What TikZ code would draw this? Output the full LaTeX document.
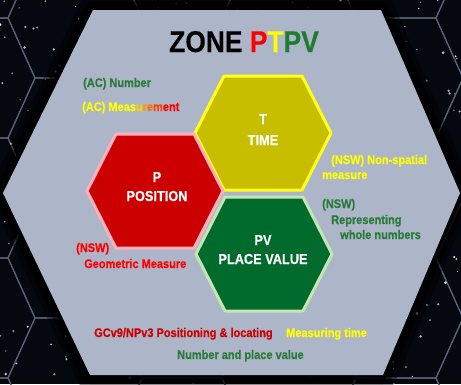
\documentclass[tikz,border=0pt]{standalone}
\usepackage{fontspec}
\setmainfont{Liberation Sans}
\newfontfamily\nar{Liberation Sans}[FakeStretch=0.88, BoldFeatures={FakeBold=0.4}]
\definecolor{bgdark}{HTML}{05080F}
\definecolor{gridc}{HTML}{5A6275}
\definecolor{hexgrey}{HTML}{ADB6C9}
\definecolor{tfill}{HTML}{C8BE00}
\definecolor{tline}{HTML}{FFFF1A}
\definecolor{pfill}{HTML}{CC0000}
\definecolor{pline}{HTML}{FFB0BC}
\definecolor{gfill}{HTML}{006B2C}
\definecolor{gline}{HTML}{C4E6B2}
\definecolor{txtgreen}{HTML}{2A7A3A}
\definecolor{titlegreen}{HTML}{1E7B30}
\definecolor{txtyellow}{HTML}{FFFF00}
\definecolor{txtred}{HTML}{FF0000}
\definecolor{darkred}{HTML}{CC0000}
\definecolor{orA}{HTML}{FFD000}
\definecolor{orB}{HTML}{FF9A00}
\definecolor{orC}{HTML}{FF7000}
\definecolor{orD}{HTML}{FF4000}
\newcommand\myhex[2]{({#1-39},{#2-57}) -- ({#1+39},{#2-57}) -- ({#1+68},{#2}) -- ({#1+39},{#2+57}) -- ({#1-39},{#2+57}) -- ({#1-68},{#2}) -- cycle}
\newcommand\bighex{(93,10) -- (381,10) -- (460,193) -- (383,375) -- (90,375) -- (3,193) -- cycle}
\tikzset{
  gridline/.style={draw=gridc, line width=1.1pt},
  lbl/.style={font=\nar\bfseries\fontsize{12.5}{14}\selectfont, inner sep=0pt, anchor=base west},
  hexlbl/.style={font=\nar\bfseries\fontsize{14.5}{16}\selectfont, inner sep=0pt, anchor=base, text=white},
  titlelbl/.style={font=\nar\bfseries\fontsize{30}{32}\selectfont, inner sep=0pt, anchor=base}
}
\begin{document}
\begin{tikzpicture}[x=1pt,y=-1pt, line join=round]
\useasboundingbox (0,0) rectangle (461,384);
\fill[bgdark] (0,0) rectangle (461,384);
% honeycomb grid
\begin{scope}
\clip (0,0) rectangle (461,384);
\foreach \n in {-1,...,2}{
  \foreach \k in {-1,...,3}{
    \draw[gridline] ({142+214*\n},{18+120*\k}) -- ++(80,0) -- ++(27,60) -- ++(-27,60) -- ++(-80,0) -- ++(-27,-60) -- cycle;
    \draw[gridline] ({35+214*\n},{78+120*\k}) -- ++(80,0) -- ++(27,60) -- ++(-27,60) -- ++(-80,0) -- ++(-27,-60) -- cycle;
  }
}
% stars
\pgfmathsetseed{11}
\foreach \i in {1,...,320}{
  \pgfmathsetmacro\sx{rnd*461}
  \pgfmathsetmacro\sy{rnd*384}
  \pgfmathsetmacro\sr{0.6+rnd*0.9}
  \pgfmathsetmacro\so{0.45+rnd*0.55}
  \fill[white, opacity=\so] (\sx,\sy) circle (\sr);
}
\end{scope}
% shadow of big hexagon
\draw[black, opacity=0.4, line width=28pt] \bighex;
\draw[black, opacity=0.5, line width=18pt] \bighex;
\draw[black, opacity=0.7, line width=9pt] \bighex;
\fill[hexgrey] \bighex;
% three hexagons
\filldraw[fill=tfill, draw=tline, line width=3pt] \myhex{263}{133};
\filldraw[fill=pfill, draw=pline, line width=3pt] \myhex{155}{191};
\filldraw[fill=gfill, draw=gline, line width=3pt] \myhex{264}{254};
% title
\node[titlelbl] (title) at (244,52) {\textcolor{black}{ZONE} \textcolor{txtred}{P}\textcolor{txtyellow}{T}\textcolor{titlegreen}{PV}};
% hex labels
\node[hexlbl] (tA) at (263,124) {T};
\node[hexlbl] (tB) at (263,145) {TIME};
\node[hexlbl] (pA) at (157,182) {P};
\node[hexlbl] (pB) at (157,201) {POSITION};
\node[hexlbl] (gA) at (263,245) {PV};
\node[hexlbl] (gB) at (263,264) {PLACE VALUE};
% side labels
\node[lbl, text=txtgreen] (acnum) at (83,87) {(AC) Number};
\node[lbl] (acmeas) at (82,111) {\textcolor{txtyellow}{(AC) Meas}\textcolor{orA}{u}\textcolor{orB}{r}\textcolor{orC}{e}\textcolor{orD}{m}\textcolor{txtred}{ent}};
\node[lbl, text=txtyellow] (nswA) at (331,164) {(NSW) Non-spatial};
\node[lbl, text=txtyellow] (nswB) at (322,179) {measure};
\node[lbl, text=txtgreen] (nswC) at (322,208) {(NSW)};
\node[lbl, text=txtgreen] (nswD) at (331,224) {Representing};
\node[lbl, text=txtgreen] (nswE) at (340,239) {whole numbers};
\node[lbl, text=txtred] (nswF) at (76,252) {(NSW)};
\node[lbl, text=txtred] (nswG) at (84,268) {Geometric Measure};
\node[lbl, text=darkred] (gcv) at (94,337) {GCv9/NPv3 Positioning \& locating};
\node[lbl, text=txtyellow] (mtime) at (286,337) {Measuring time};
\node[lbl, text=txtgreen] (npv) at (177,359) {Number and place value};
\end{tikzpicture}
\end{document}
